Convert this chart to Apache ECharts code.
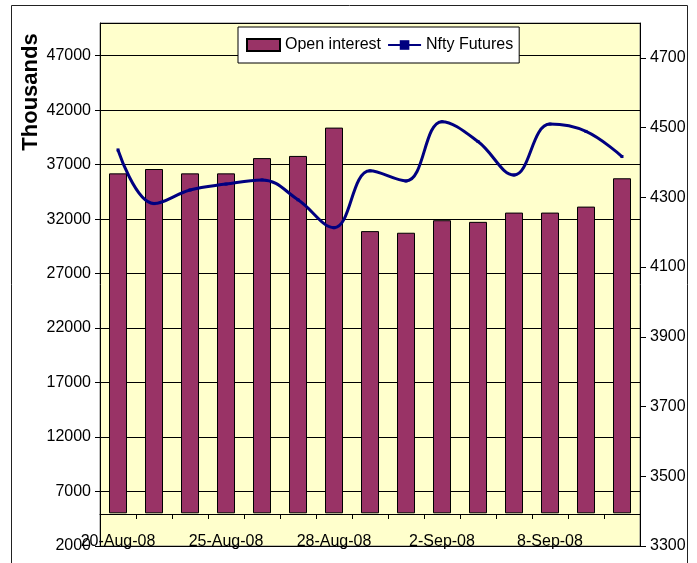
<!DOCTYPE html>
<html>
<head>
<meta charset="utf-8">
<script src="https://cdn.jsdelivr.net/npm/echarts@6/dist/echarts.min.js"></script>
<style>
    html, body { margin: 0; padding: 0; background: #fff; }
    #chart { width: 697px; height: 563px; }
</style>
</head>
<body>
<div id="chart"></div>
<script>
const dates = ['20-Aug-08', '21-Aug-08', '22-Aug-08', '25-Aug-08', '26-Aug-08', '27-Aug-08', '28-Aug-08',
    '29-Aug-08', '1-Sep-08', '2-Sep-08', '4-Sep-08', '5-Sep-08', '8-Sep-08', '9-Sep-08', '10-Sep-08'];
const openInterest = [36200, 36600, 36200, 36200, 37600, 37800, 40400, 30900, 30750, 31900, 31750, 32600, 32600, 33150, 35750];
const niftyFutures = [4436, 4282, 4321, 4338, 4350, 4293, 4213, 4376, 4347, 4517, 4460, 4364, 4510, 4489, 4417];
const leftTicks = { min: 2000, max: 50000, step: 5000 };
const rightTicks = { min: 3300, max: 4800, step: 200 };

const font = 'Arial, "Liberation Sans", sans-serif';

let chart = echarts.init(document.getElementById('chart'));

let option = {
    backgroundColor: '#fff',
    animation: false,
    textStyle: { fontFamily: font },
    grid: {
        left: 100,
        right: 57,
        top: 23,
        bottom: 17,
        show: true,
        backgroundColor: '#FFFFCC',
        borderColor: '#808080',
        borderWidth: 1
    },
    legend: {
        left: 238,
        top: 27,
        padding: [10, 6, 10, 8],
        itemWidth: 33,
        itemHeight: 12,
        itemGap: 6,
        backgroundColor: '#fff',
        borderColor: '#000',
        borderWidth: 1,
        textStyle: { fontFamily: font, fontSize: 16, color: '#000' },
        data: [
            { name: 'Open interest', icon: 'rect' },
            { name: 'Nfty Futures' }
        ]
    },
    graphic: [
        {
            type: 'rect',
            shape: { x: 11.5, y: 5.5, width: 676, height: 575 },
            style: { fill: 'none', stroke: '#222', lineWidth: 1 },
            silent: true
        },
        {
            type: 'text',
            x: 31,
            y: 92,
            rotation: Math.PI / 2,
            style: {
                text: 'Thousands',
                font: 'bold 22px ' + font,
                fill: '#000',
                align: 'center',
                verticalAlign: 'middle'
            }
        }
    ],
    xAxis: {
        type: 'category',
        data: dates,
        boundaryGap: true,
        offset: -32,
        axisLine: { lineStyle: { color: '#000', width: 1 } },
        axisTick: { show: true, interval: 0, length: 5, lineStyle: { color: '#000' } },
        axisLabel: { interval: 2, margin: 20, fontSize: 16, color: '#000', fontFamily: font },
        splitLine: { show: false }
    },
    yAxis: [
        {
            type: 'value',
            position: 'left',
            min: leftTicks.min,
            max: leftTicks.max,
            interval: leftTicks.step,
            startValue: 5000,
            axisLine: { show: true, lineStyle: { color: '#000' } },
            axisTick: { show: true, length: 5, lineStyle: { color: '#000' } },
            axisLabel: {
                showMaxLabel: false, margin: 9, fontSize: 16, color: '#000', fontFamily: font,
                formatter: (v) => String(v)
            },
            splitLine: { show: true, lineStyle: { color: '#000', width: 1 } }
        },
        {
            type: 'value',
            position: 'right',
            min: rightTicks.min,
            max: rightTicks.max,
            interval: rightTicks.step,
            axisLine: { show: true, lineStyle: { color: '#000' } },
            axisTick: { show: true, length: 6, lineStyle: { color: '#000' } },
            axisLabel: {
                showMaxLabel: false, margin: 10, fontSize: 16, color: '#000', fontFamily: font,
                formatter: (v) => String(v)
            },
            splitLine: { show: false }
        }
    ],
    series: [
        {
            name: 'Open interest',
            type: 'bar',
            yAxisIndex: 0,
            barWidth: '50%',
            data: openInterest,
            itemStyle: { color: '#993366', borderColor: '#000', borderWidth: 1 }
        },
        {
            name: 'Nfty Futures',
            type: 'line',
            yAxisIndex: 1,
            smooth: 0.4,
            data: niftyFutures,
            symbol: 'rect',
            symbolSize: 3,
            itemStyle: { color: '#000080' },
            lineStyle: { color: '#000080', width: 3 }
        }
    ]
};

chart.setOption(option);

window.addEventListener('resize', () => {
    chart.resize();
});
</script>
</body>
</html>
